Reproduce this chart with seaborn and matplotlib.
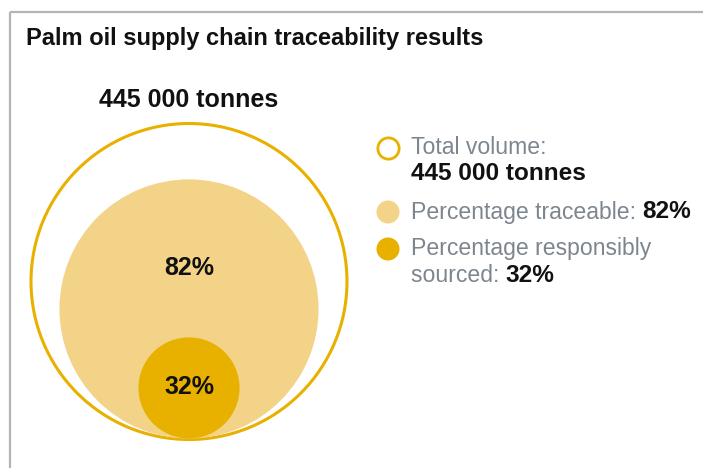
import matplotlib
matplotlib.use("Agg")
import matplotlib.pyplot as plt
from matplotlib.patches import Circle
import seaborn as sns

# Figures for the palm oil supply chain
title = "Palm oil supply chain traceability results"
total_volume_label = "445 000 tonnes"
share_labels = ["82%", "32%"]
share_values = [82, 32]  # percent of total volume
legend_prefixes = ["Total volume:", "Percentage traceable: ", "Percentage responsibly", "sourced: "]
legend_values = ["445 000 tonnes", "82%", "32%"]

GOLD = "#E8B100"
LIGHT_GOLD = "#F3D388"
GREY_TEXT = "#7D868E"
FRAME = "#B4B4B4"
INK = "#111111"

sns.set_theme(style="white")
plt.rcParams["font.family"] = ["Liberation Sans", "DejaVu Sans"]

W, H = 703, 468
fig = plt.figure(figsize=(W / 100, H / 100), dpi=100)
ax = fig.add_axes([0, 0, 1, 1])
ax.set_xlim(0, W)
ax.set_ylim(H, 0)
ax.set_aspect("equal")
ax.axis("off")

# panel frame (top and left edges)
ax.plot([10, W], [12, 12], color=FRAME, lw=1.6, solid_capstyle="butt")
ax.plot([10, 10], [12, H], color=FRAME, lw=1.6, solid_capstyle="butt")

ax.text(26, 39, title, fontsize=17, fontweight="bold", color=INK,
        va="center", ha="left")

# nested circles, radius proportional to share, all resting on a common base
cx, base, R = 189, 439.5, 158
ax.add_patch(Circle((cx, base - R), R, facecolor="white", edgecolor=GOLD, lw=2.2, zorder=2))
fills = [LIGHT_GOLD, GOLD]
label_y = [268, 387]
for val, col, lab, ly in zip(share_values, fills, share_labels, label_y):
    r = R * val / 100
    ax.add_patch(Circle((cx, base - 1 - r), r, facecolor=col, edgecolor="none", zorder=3))
    ax.text(cx, ly, lab, fontsize=18, fontweight="bold", color=INK,
            ha="center", va="center", zorder=4)

ax.text(cx, 100, total_volume_label, fontsize=18, fontweight="bold", color=INK,
        ha="center", va="center")

# legend
lx, tx = 388, 411
sns.scatterplot(x=[lx], y=[148], s=235, facecolor="white", edgecolor=GOLD, linewidth=2.0,
                ax=ax, legend=False, zorder=5)
sns.scatterplot(x=[lx, lx], y=[212, 249], s=275, hue=[0, 1], palette=[LIGHT_GOLD, GOLD],
                edgecolor="none", ax=ax, legend=False, zorder=5)

fs, fsb = 16.6, 17.6


def prefix_then_value(y, prefix, value):
    t = ax.text(tx, y, prefix, fontsize=fs, color=GREY_TEXT, va="center", ha="left")
    fig.canvas.draw()
    bb = t.get_window_extent().transformed(ax.transData.inverted())
    ax.text(bb.x1, y, value, fontsize=fsb, fontweight="bold", color=INK,
            va="center", ha="left")


ax.text(tx, 148, legend_prefixes[0], fontsize=fs, color=GREY_TEXT, va="center", ha="left")
ax.text(tx, 174, legend_values[0], fontsize=fsb, fontweight="bold", color=INK,
        va="center", ha="left")
prefix_then_value(212, legend_prefixes[1], legend_values[1])
ax.text(tx, 249, legend_prefixes[2], fontsize=fs, color=GREY_TEXT, va="center", ha="left")
prefix_then_value(275, legend_prefixes[3], legend_values[2])

fig.savefig("out.png", dpi=100)
